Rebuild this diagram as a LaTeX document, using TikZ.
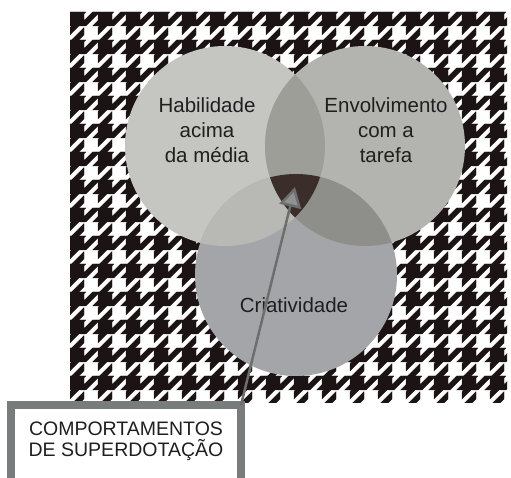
\documentclass[tikz,border=0pt]{standalone}
\usepackage{fontspec}
\setmainfont{Liberation Sans}
\usepackage{xcolor}
\usetikzlibrary{arrows.meta,positioning,calc}

\definecolor{toothblack}{HTML}{1C1414}
\definecolor{habfill}{HTML}{C5C6C1}
\definecolor{envfill}{HTML}{B3B4AF}
\definecolor{crifill}{HTML}{A4A5A9}
\definecolor{habenv}{HTML}{9D9E98}
\definecolor{habcri}{HTML}{B8B9B5}
\definecolor{envcri}{HTML}{8E8F8A}
\definecolor{allthree}{HTML}{3B2D29}
\definecolor{boxgray}{HTML}{787C7C}
\definecolor{arrowgray}{HTML}{6E6E6E}
\definecolor{tipgray}{HTML}{909191}

\begin{document}
\begin{tikzpicture}[
    x=1pt, y=1pt,
    every node/.style={text=black!88},
    circletext/.style={align=center, font=\fontsize{20.5}{25}\selectfont},
    boxtext/.style={align=center, font=\fontsize{19.5}{21}\selectfont},
    tooth/.style={fill=toothblack, draw=toothblack, line width=0.4pt},
    pointer/.style={draw=arrowgray, line width=2.5pt, -{Triangle[length=20pt, width=22pt, fill=tipgray]}},
]
    \useasboundingbox (0,0) rectangle (511,478);

    % Houndstooth background
    \begin{scope}
        \clip (70,75) rectangle (507,466);
        \foreach \i in {0,...,15}
            \foreach \j in {0,...,13}
                \filldraw[tooth, shift={(70+28*\i,466-28*\j)}, yscale=-1, scale=3.5]
                    (0,0) -- (4.5,0) -- (4,0.5) -- (4,2.5) -- (6.5,0) -- (8,0) -- (8,0.5)
                    -- (4.5,4) -- (2.5,4) -- (0,6.5) -- (0,4.5) -- (0.5,4) -- (0,4) -- cycle
                    (4,4.5) -- (4,6.5) -- (2.5,8) -- (0.5,8) -- cycle
                    (6.5,4) -- (8,2.5) -- (8,4) -- cycle;
    \end{scope}

    % Circles
    \coordinate (habc) at (225,332);
    \coordinate (envc) at (365,332);
    \coordinate (cric) at (296,203);
    \fill[habfill] (habc) circle (100);
    \fill[envfill] (envc) circle (100);
    \fill[crifill] (cric) circle (101);

    % Overlaps
    \begin{scope}
        \clip (habc) circle (100);
        \fill[habenv] (envc) circle (100);
        \fill[habcri] (cric) circle (101);
    \end{scope}
    \begin{scope}
        \clip (envc) circle (100);
        \fill[envcri] (cric) circle (101);
    \end{scope}
    \begin{scope}
        \clip (habc) circle (100);
        \clip (envc) circle (100);
        \fill[allthree] (cric) circle (101);
    \end{scope}

    % Labels
    \node[circletext] (hab) at (207,348) {Habilidade\\acima\\da média};
    \node[circletext] (env) at (386,348) {Envolvimento\\com a\\tarefa};
    \node[circletext] (cri) at (294,173) {Criatividade};

    % Box and arrow
    \node[draw=boxgray, line width=8pt, fill=white, outer sep=0pt,
          minimum width=230pt, minimum height=83pt, anchor=north west] (box) at (11,73) {};
    \node[boxtext] (boxtxt) at ([yshift=5pt]box.center) {COMPORTAMENTOS\\DE SUPERDOTAÇÃO};
    \coordinate (tip) at (295,291);
    \draw[pointer] (box.north east) -- (tip);
\end{tikzpicture}
\end{document}
